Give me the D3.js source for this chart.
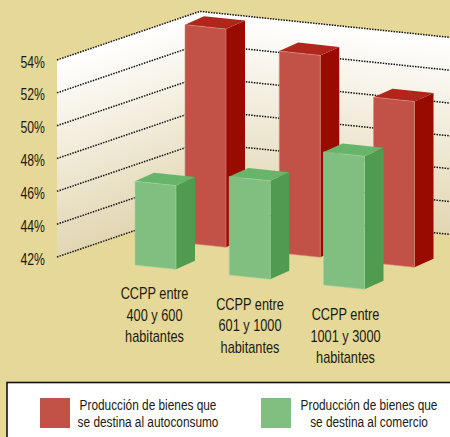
<!DOCTYPE html>
<html lang="es">
  <head>
    <meta charset="utf-8">
    <title>CCPP</title>
    <style type="text/css">
      html, body { margin: 0; padding: 0; background: #e5d898; overflow: hidden; }
      text { font-family: "Liberation Sans", sans-serif; fill: #1c1a10; }
    </style>
    <script src="https://d3js.org/d3.v7.min.js"></script>
  </head>
  <body>
    <div id="my_dataviz"></div>
    <script>

    // data
    var categories = ["400 y 600", "601 y 1000", "1001 y 3000"];
    var autoconsumo = [55.3, 54.3, 52.1];
    var comercio = [47.1, 48.0, 50.1];
    var ticks = [42, 44, 46, 48, 50, 52, 54];
    var legendLabels = [
      ["Producción de bienes que", "se destina al autoconsumo"],
      ["Producción de bienes que", "se destina al comercio"]
    ];

    var width = 450, height = 437;

    // fake 3d set up: left wall, back corner, right wall
    var wallLeft = 57, wallCorner = 200, wallRight = 450;
    var slopeLeft = -0.34, slopeRight = 0.104;
    var floorLeft = 257;
    var baseSlope = 0.106;
    var depthX = 19, depthY = -8.5, barWidth = 41;

    var svg = d3.select("#my_dataviz")
      .append("svg")
        .attr("width", width)
        .attr("height", height)
        .style("display", "block");

    // y scale gives the rise above the 42% floor, in pixels
    var rise = d3.scaleLinear().domain([42, 54]).range([0, 197]);
    var x = d3.scalePoint().domain(categories).range([135, 323.5]);
    var line = d3.line();

    var floorCorner = floorLeft + (wallCorner - wallLeft) * slopeLeft;

    var defs = svg.append("defs");
    function wallGradient(id, slope, x0, y0) {
      var k = rise(54) / (1 + slope * slope);
      var g = defs.append("linearGradient")
        .attr("id", id)
        .attr("gradientUnits", "userSpaceOnUse")
        .attr("x1", x0)
        .attr("y1", y0)
        .attr("x2", x0 - slope * k)
        .attr("y2", y0 + k);
      g.append("stop").attr("offset", "0%").attr("stop-color", "#ffffff");
      g.append("stop").attr("offset", "100%").attr("stop-color", "#e2d6b2");
    }
    wallGradient("wall-left", slopeLeft, wallLeft, floorLeft - rise(54));
    wallGradient("wall-right", slopeRight, wallCorner, floorCorner - rise(54));

    // walls
    function leftY(v, px) { return floorLeft + (px - wallLeft) * slopeLeft - rise(v); }
    function rightY(v, px) { return floorCorner + (px - wallCorner) * slopeRight - rise(v); }

    svg.append("path")
      .attr("fill", "url(#wall-left)")
      .attr("d", line([
        [wallLeft, leftY(54, wallLeft)], [wallCorner, leftY(54, wallCorner)],
        [wallCorner, leftY(42, wallCorner)], [wallLeft, leftY(42, wallLeft)]
      ]) + "Z");
    svg.append("path")
      .attr("fill", "url(#wall-right)")
      .attr("d", line([
        [wallCorner, rightY(54, wallCorner)], [wallRight, rightY(54, wallRight)],
        [wallRight, rightY(42, wallRight)], [wallCorner, rightY(42, wallCorner)]
      ]) + "Z");

    // dotted grid on both walls
    svg.selectAll("path.grid")
      .data(ticks)
      .enter()
      .append("path")
        .attr("class", "grid")
        .attr("fill", "none")
        .attr("stroke", "#111")
        .attr("stroke-width", 1.5)
        .attr("stroke-dasharray", "1.5 1.2")
        .attr("d", function (d) {
          return line([
            [wallLeft, leftY(d, wallLeft)],
            [wallCorner, leftY(d, wallCorner)],
            [wallRight, rightY(d, wallRight)]
          ]);
        });

    // no narrow font installed, so squeeze the text sideways
    function narrowText(parent, px, py, size, squeeze, s, anchor) {
      return parent.append("text")
        .attr("transform", "translate(" + px + "," + py + ") scale(" + squeeze + ",1)")
        .attr("text-anchor", anchor)
        .attr("font-size", size + "px")
        .text(s);
    }

    // tick labels
    ticks.forEach(function (d) {
      narrowText(svg, 45, leftY(d, wallLeft) + 7.5, 17, 0.72, d + "%", "end");
    });

    function drawBar(v, i, s) {
      var x0 = x(categories[i]) + s.dx;
      var x1 = x0 + barWidth;
      var base = function (px) { return 265 + s.dy + (px - 135 - s.dx) * baseSlope; };
      var h = rise(v);
      var fl = [x0, base(x0)], fr = [x1, base(x1)];
      var tl = [x0, base(x0) - h], tr = [x1, base(x1) - h];
      var br = [x1 + depthX, base(x1) + depthY];
      var bt = [x1 + depthX, base(x1) + depthY - h];
      var bk = [x0 + depthX, base(x0) + depthY - h];
      svg.append("path").attr("fill", s.colors.side).attr("d", line([fr, br, bt, tr]) + "Z");
      svg.append("path").attr("fill", s.colors.top).attr("d", line([tl, tr, bt, bk]) + "Z");
      svg.append("path")
        .attr("fill", s.colors.front)
        .attr("stroke", s.colors.edge)
        .attr("stroke-width", 0.6)
        .attr("d", line([fl, fr, tr, tl]) + "Z");
    }

    // red row stands behind the green one
    var red = { front: "#c25248", top: "#b0261a", side: "#990b00", edge: "#d98f84" };
    var green = { front: "#80bf80", top: "#66b56a", side: "#4f9c50", edge: "#a3d3a0" };
    var groups = [
      { values: autoconsumo, dx: 50, dy: -22, colors: red },
      { values: comercio, dx: 0, dy: 0, colors: green }
    ];

    // slot by slot, red first, so green always ends up in front
    categories.forEach(function (c, i) {
      groups.forEach(function (s) { drawBar(s.values[i], i, s); });
    });

    // category labels, stepped down like the floor
    var labelX = d3.scalePoint().domain(categories).range([154.5, 345.5]);
    var labelY = d3.scalePoint().domain(categories).range([299, 320]);
    categories.forEach(function (c) {
      ["CCPP entre", c, "habitantes"].forEach(function (s, i) {
        narrowText(svg, labelX(c), labelY(c) + i * 21.5, 17, 0.75, s, "middle");
      });
    });

    // legend
    svg.append("rect")
      .attr("x", 7)
      .attr("y", 382.5)
      .attr("width", 460)
      .attr("height", 70)
      .attr("fill", "#fff")
      .attr("stroke", "#111")
      .attr("stroke-width", 1.6);

    var legendX = d3.scalePoint().domain([0, 1]).range([40, 261]);
    [red.front, green.front].forEach(function (col, i) {
      svg.append("rect")
        .attr("x", legendX(i))
        .attr("y", 398)
        .attr("width", 30)
        .attr("height", 30)
        .attr("fill", col);
      legendLabels[i].forEach(function (s, j) {
        narrowText(svg, legendX(i) + 108, 410 + j * 17, 15, 0.79, s, "middle");
      });
    });

    </script>
  </body>
</html>
